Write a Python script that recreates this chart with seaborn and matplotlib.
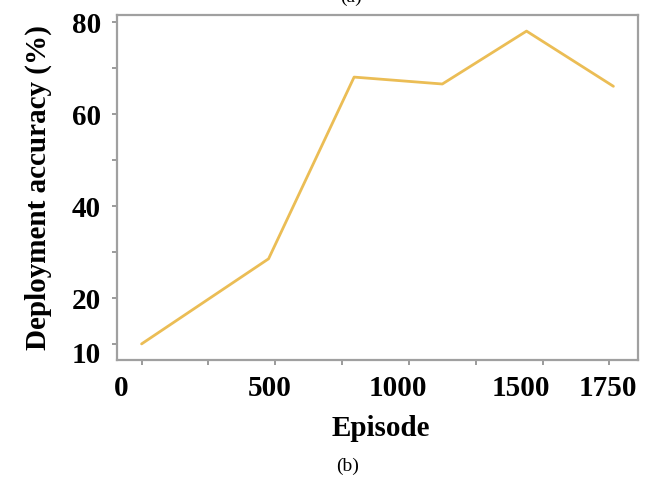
import matplotlib
matplotlib.use("Agg")
import matplotlib.pyplot as plt
import matplotlib.transforms as mtransforms
import seaborn as sns
import pandas as pd
from matplotlib.ticker import FixedLocator

episodes = [0, 475, 795, 1125, 1440, 1765]
accuracy = [10, 28.5, 68, 66.5, 78, 66]
x_tick_values = [0, 500, 1000, 1500, 1750]
x_tick_labels = ["0", "500", "1000", "1500", "1750"]
x_minor_values = [250, 750, 1250]
y_tick_values = [10, 20, 40, 60, 80]
y_tick_labels = ["10", "20", "40", "60", "80"]
y_minor_values = [30, 50, 70]

sns.set_theme(style="white")
plt.rcParams["font.family"] = ["Liberation Serif", "DejaVu Serif"]
plt.rcParams["text.color"] = "black"
plt.rcParams["axes.labelcolor"] = "black"
plt.rcParams["xtick.color"] = "black"
plt.rcParams["ytick.color"] = "black"

df = pd.DataFrame({"Episode": episodes, "Accuracy": accuracy})

fig = plt.figure(figsize=(6.52, 4.87), dpi=100)
ax = fig.add_axes([117/652, 1-360/487, 521/652, 345/487])

sns.lineplot(data=df, x="Episode", y="Accuracy", ax=ax, color="#EBBD55", linewidth=2.0)

ax.set_xlim(-92, 1857)
ax.set_ylim(6.5, 81.5)

ax.xaxis.set_major_locator(FixedLocator(x_tick_values))
ax.set_xticklabels(x_tick_labels)
ax.xaxis.set_minor_locator(FixedLocator(x_minor_values))
ax.yaxis.set_major_locator(FixedLocator(y_tick_values))
ax.set_yticklabels(y_tick_labels)
ax.yaxis.set_minor_locator(FixedLocator(y_minor_values))

ax.tick_params(axis="both", which="both", direction="out", length=3.5, width=1.2,
               color="#8a8a8a", bottom=True, left=True)
ax.tick_params(axis="x", which="major", pad=7)
ax.tick_params(axis="y", which="major", pad=8)

for sp in ax.spines.values():
    sp.set_visible(True)
    sp.set_color("#a0a0a0")
    sp.set_linewidth(1.6)

ax.set_xlabel("Episode", fontsize=21, fontweight="bold", va="center", color="black")
ax.set_ylabel("Deployment accuracy (%)", fontsize=21, fontweight="bold", va="center", color="black")
ax.xaxis.set_label_coords(0.5 + (381-377.5)/521, (360-428)/345)
ax.yaxis.set_label_coords((38-117)/521, 0.5)

fig.text(348/652, 1 - 466/487, "(b)", ha="center", va="center", fontsize=14, color="black")
fig.text(351/652, 1 - 2/487, "(a)", ha="center", va="baseline", fontsize=14, color="black")

# tick label styling and small pixel nudges to follow the reference layout
x_nudge = [-20, -6, -11, -22, -2]
y_nudge = [-9, -1, -1, -1, -1]
for tick, dx in zip(ax.xaxis.get_major_ticks(), x_nudge):
    lab = tick.label1
    lab.set_fontweight("bold")
    lab.set_fontsize(21)
    lab.set_color("black")
    lab.set_transform(lab.get_transform() + mtransforms.ScaledTranslation(dx/100, 0, fig.dpi_scale_trans))
for tick, dy in zip(ax.yaxis.get_major_ticks(), y_nudge):
    lab = tick.label1
    lab.set_fontweight("bold")
    lab.set_fontsize(21)
    lab.set_color("black")
    lab.set_transform(lab.get_transform() + mtransforms.ScaledTranslation(0, dy/100, fig.dpi_scale_trans))

fig.savefig("out.png", dpi=100)
